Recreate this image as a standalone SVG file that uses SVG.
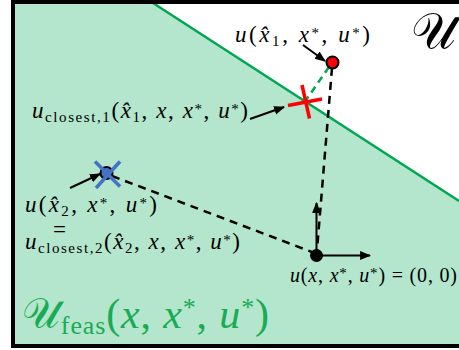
<svg xmlns="http://www.w3.org/2000/svg" width="459" height="350" viewBox="0 0 459 350">
<style>
text{font-family:"Liberation Serif","DejaVu Serif",serif;fill:#000}
.lbl{font-size:23px}
.lbl2{font-size:20px}
.i{font-style:italic}
.sm{font-size:15px}
.dash{stroke:#000;stroke-width:2.5;stroke-dasharray:8 6;fill:none}
</style>
<defs>
<marker id="ah2" viewBox="0 0 10 10" refX="9" refY="5" markerWidth="11" markerHeight="11" orient="auto" markerUnits="userSpaceOnUse">
<path d="M0,1 L10,5 L0,9 z" fill="#000"/>
</marker>
</defs>
<g id="background">
<rect x="13" y="2" width="450" height="344" fill="#fff"/>
<polygon points="13,2 153,2 459,202 459,346 13,346" fill="#b3e6cc"/>
<line x1="153" y1="3" x2="459" y2="201" stroke="#00a651" stroke-width="2.5"/>
<path d="M459,2 H13 V346 H459" fill="none" stroke="#000" stroke-width="4"/>
</g>
<g id="connectors">
<line class="dash" x1="332" y1="68" x2="317" y2="250"/>
<line class="dash" x1="112" y1="176" x2="312" y2="252"/>
<line x1="329" y1="67" x2="306" y2="100" stroke="#00a651" stroke-width="2.5" stroke-dasharray="7 5"/>
<line x1="303" y1="45" x2="325" y2="61" stroke="#000" stroke-width="2" marker-end="url(#ah2)"/>
<line x1="250" y1="119" x2="284" y2="107" stroke="#000" stroke-width="2" marker-end="url(#ah2)"/>
<line x1="70" y1="188" x2="100" y2="174" stroke="#000" stroke-width="2" marker-end="url(#ah2)"/>
<line x1="316.5" y1="255.5" x2="316.5" y2="203" stroke="#000" stroke-width="2" marker-end="url(#ah2)"/>
<line x1="316.5" y1="255.5" x2="370" y2="255.5" stroke="#000" stroke-width="2" marker-end="url(#ah2)"/>
</g>
<g id="point-u-x1hat">
<circle cx="332.5" cy="62.5" r="6" fill="#ff0000" stroke="#000" stroke-width="2"/>
</g>
<g id="point-closest-1">
<line x1="288" y1="105.5" x2="322" y2="99" stroke="#ff0000" stroke-width="3.5"/>
<line x1="302" y1="85" x2="309.5" y2="118.5" stroke="#ff0000" stroke-width="3.5"/>
</g>
<g id="point-u-x2hat">
<circle cx="106.5" cy="173" r="6" fill="#4472c4" stroke="#000" stroke-width="2"/>
<line x1="95" y1="161.5" x2="120" y2="186.5" stroke="#4472c4" stroke-width="3.5"/>
<line x1="120" y1="161.5" x2="96" y2="188" stroke="#4472c4" stroke-width="3.5"/>
</g>
<g id="point-origin">
<circle cx="316.5" cy="255.5" r="6.5" fill="#000"/>
</g>
<g id="labels">
<text id="U" x="411" y="48" font-size="50" font-family="DejaVu Serif,serif">𝒰</text>
<text class="lbl" x="235" y="42" textLength="135" lengthAdjust="spacing"><tspan class="i">u</tspan>(<tspan class="i">x̂</tspan><tspan class="sm" dy="4">1</tspan><tspan dy="-4">, </tspan><tspan class="i">x</tspan><tspan class="sm" dy="-4">*</tspan><tspan dy="4">, </tspan><tspan class="i">u</tspan><tspan class="sm" dy="-4">*</tspan><tspan dy="4">)</tspan></text>
<text class="lbl" x="32" y="118" textLength="216" lengthAdjust="spacing"><tspan class="i">u</tspan><tspan class="sm" dy="4">closest,1</tspan><tspan dy="-4">(</tspan><tspan class="i">x̂</tspan><tspan class="sm" dy="4">1</tspan><tspan dy="-4">, </tspan><tspan class="i">x</tspan>, <tspan class="i">x</tspan><tspan class="sm" dy="-4">*</tspan><tspan dy="4">, </tspan><tspan class="i">u</tspan><tspan class="sm" dy="-4">*</tspan><tspan dy="4">)</tspan></text>
<text class="lbl" x="25" y="212" textLength="132" lengthAdjust="spacing"><tspan class="i">u</tspan>(<tspan class="i">x̂</tspan><tspan class="sm" dy="4">2</tspan><tspan dy="-4">, </tspan><tspan class="i">x</tspan><tspan class="sm" dy="-4">*</tspan><tspan dy="4">, </tspan><tspan class="i">u</tspan><tspan class="sm" dy="-4">*</tspan><tspan dy="4">)</tspan></text>
<text class="lbl" x="53" y="237">=</text>
<text class="lbl" x="25" y="249" textLength="215" lengthAdjust="spacing"><tspan class="i">u</tspan><tspan class="sm" dy="4">closest,2</tspan><tspan dy="-4">(</tspan><tspan class="i">x̂</tspan><tspan class="sm" dy="4">2</tspan><tspan dy="-4">, </tspan><tspan class="i">x</tspan>, <tspan class="i">x</tspan><tspan class="sm" dy="-4">*</tspan><tspan dy="4">, </tspan><tspan class="i">u</tspan><tspan class="sm" dy="-4">*</tspan><tspan dy="4">)</tspan></text>
<text class="lbl2" x="290" y="282" textLength="167" lengthAdjust="spacing"><tspan class="i">u</tspan>(<tspan class="i">x</tspan>, <tspan class="i">x</tspan><tspan class="sm" dy="-4">*</tspan><tspan dy="4">, </tspan><tspan class="i">u</tspan><tspan class="sm" dy="-4">*</tspan><tspan dy="4">) = (0, 0)</tspan></text>
<text x="22" y="328" font-size="42" style="fill:#1aab55" textLength="247" lengthAdjust="spacing"><tspan>𝒰</tspan><tspan font-size="26" dy="6">feas</tspan><tspan dy="-6">(</tspan><tspan class="i">x</tspan>, <tspan class="i">x</tspan><tspan font-size="26" dy="-12">*</tspan><tspan dy="12">, </tspan><tspan class="i">u</tspan><tspan font-size="26" dy="-12">*</tspan><tspan dy="12">)</tspan></text>
</g>
</svg>
